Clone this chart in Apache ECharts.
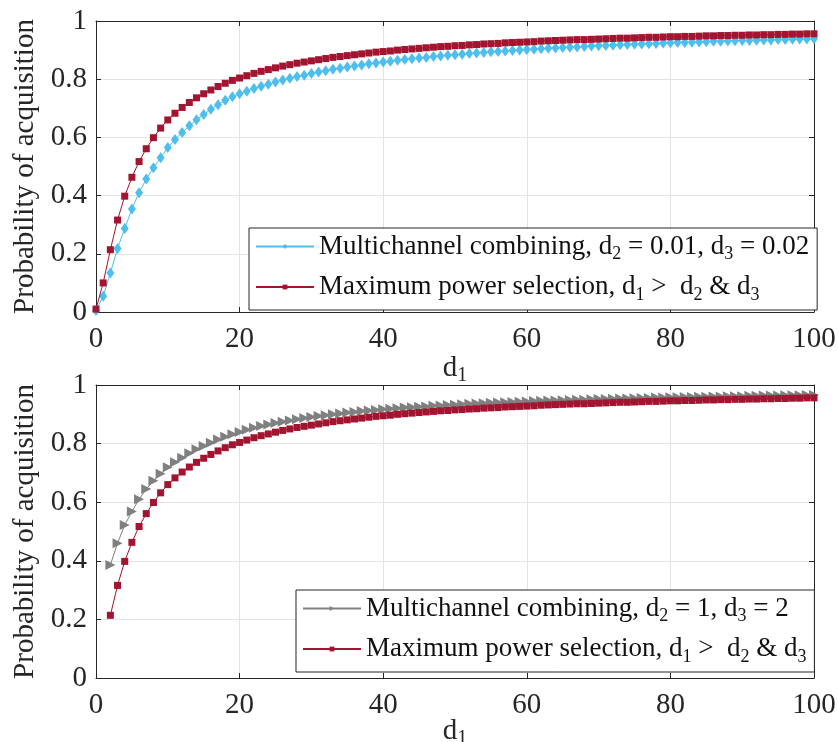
<!DOCTYPE html>
<html>
<head>
<meta charset="utf-8">
<script src="https://cdn.jsdelivr.net/npm/echarts@6/dist/echarts.min.js"></script>
<style>
  html, body { margin: 0; padding: 0; background: #ffffff; }
  #chart { width: 838px; height: 742px; }
</style>
</head>
<body>
<div id="chart"></div>
<script>
// d1 grid: integer steps 0..100 (upper panel), 2..100 (lower panel)
const d1Upper = Array.from({ length: 101 }, (_, i) => i);
const d1Lower = Array.from({ length: 99 }, (_, i) => i + 2);

// Multichannel combining, d2 = 0.01, d3 = 0.02  (d1 = 0..100)
const mcSmall = [
  0.005, 0.054, 0.134, 0.218, 0.287, 0.354, 0.410, 0.457, 0.496, 0.530,
  0.565, 0.593, 0.617, 0.640, 0.661, 0.679, 0.697, 0.712, 0.728, 0.740,
  0.750, 0.759, 0.768, 0.776, 0.783, 0.790, 0.797, 0.803, 0.809, 0.814,
  0.820, 0.825, 0.829, 0.834, 0.838, 0.842, 0.845, 0.849, 0.853, 0.856,
  0.859, 0.862, 0.865, 0.868, 0.870, 0.873, 0.875, 0.878, 0.880, 0.882,
  0.884, 0.886, 0.888, 0.890, 0.892, 0.894, 0.895, 0.897, 0.899, 0.900,
  0.902, 0.903, 0.905, 0.906, 0.907, 0.909, 0.910, 0.911, 0.912, 0.914,
  0.915, 0.916, 0.917, 0.918, 0.919, 0.920, 0.921, 0.922, 0.923, 0.924,
  0.925, 0.926, 0.926, 0.927, 0.928, 0.929, 0.930, 0.930, 0.931, 0.932,
  0.933, 0.933, 0.934, 0.935, 0.935, 0.936, 0.936, 0.937, 0.938, 0.938,
  0.939
];

// Maximum power selection, d1 > d2 & d3  (d1 = 0..100)
const maxPower = [
  0.010, 0.100, 0.214, 0.316, 0.398, 0.463, 0.517, 0.561, 0.599, 0.632,
  0.660, 0.683, 0.703, 0.720, 0.736, 0.750, 0.763, 0.775, 0.786, 0.796,
  0.804, 0.812, 0.820, 0.827, 0.833, 0.839, 0.845, 0.850, 0.855, 0.859,
  0.863, 0.867, 0.871, 0.875, 0.878, 0.881, 0.884, 0.887, 0.890, 0.893,
  0.895, 0.897, 0.900, 0.902, 0.904, 0.906, 0.908, 0.910, 0.912, 0.913,
  0.915, 0.916, 0.918, 0.919, 0.921, 0.922, 0.923, 0.925, 0.926, 0.927,
  0.928, 0.929, 0.931, 0.932, 0.933, 0.934, 0.935, 0.936, 0.936, 0.937,
  0.938, 0.939, 0.940, 0.941, 0.941, 0.942, 0.943, 0.944, 0.944, 0.945,
  0.946, 0.946, 0.947, 0.947, 0.948, 0.949, 0.949, 0.950, 0.950, 0.951,
  0.951, 0.952, 0.952, 0.953, 0.953, 0.954, 0.954, 0.955, 0.955, 0.956,
  0.956
];

// Multichannel combining, d2 = 1, d3 = 2  (d1 = 2..100)
const mcLarge = [
  0.386, 0.460, 0.522, 0.568, 0.610, 0.645, 0.673, 0.697,
  0.719, 0.736, 0.752, 0.767, 0.781, 0.792, 0.803, 0.814, 0.823, 0.832,
  0.840, 0.847, 0.854, 0.860, 0.865, 0.870, 0.875, 0.879, 0.883, 0.887,
  0.891, 0.894, 0.897, 0.900, 0.903, 0.906, 0.908, 0.911, 0.913, 0.915,
  0.917, 0.919, 0.921, 0.923, 0.924, 0.926, 0.927, 0.929, 0.930, 0.932,
  0.933, 0.934, 0.936, 0.937, 0.938, 0.939, 0.940, 0.941, 0.942, 0.943,
  0.944, 0.945, 0.946, 0.947, 0.947, 0.948, 0.949, 0.950, 0.950, 0.951,
  0.952, 0.952, 0.953, 0.954, 0.954, 0.955, 0.956, 0.956, 0.957, 0.957,
  0.958, 0.958, 0.959, 0.959, 0.960, 0.960, 0.961, 0.961, 0.962, 0.962,
  0.962, 0.963, 0.963, 0.964, 0.964, 0.964, 0.965, 0.965, 0.965, 0.966,
  0.966
];

const xTicks = [0, 20, 40, 60, 80, 100];
const yTicks = [0, 0.2, 0.4, 0.6, 0.8, 1];

const nameMcSmall = 'Multichannel combining, d2 = 0.01, d3 = 0.02';
const nameMaxPower = 'Maximum power selection, d1 > d2 & d3';
const nameMcLarge = 'Multichannel combining, d2 = 1, d3 = 2';

const legendRich = {
  [nameMcSmall]: '{n|Multichannel combining, d}{s|2}{n| = 0.01, d}{s|3}{n| = 0.02}',
  [nameMaxPower]: '{n|Maximum power selection, d}{s|1}{n| >  d}{s|2}{n| & d}{s|3}',
  [nameMcLarge]: '{n|Multichannel combining, d}{s|2}{n| = 1, d}{s|3}{n| = 2}'
};

const FONT = "'Liberation Serif', 'Times New Roman', serif";
const INK = '#262626';
const BLUE = '#4DBEEE';
const RED = '#A2142F';
const GRAY = '#808080';

const pairs = (xs, ys) => xs.map((x, i) => [x, ys[i]]);

function mainX(gridIndex, nameGap) {
  return {
    type: 'value', gridIndex, position: 'bottom',
    min: xTicks[0], max: xTicks[xTicks.length - 1], interval: xTicks[1] - xTicks[0],
    name: '{n|d}{s|1}', nameLocation: 'middle', nameGap, nameMoveOverlap: false,
    nameTextStyle: {
      rich: {
        n: { fontFamily: FONT, fontSize: 29, color: INK },
        s: { fontFamily: FONT, fontSize: 20, color: INK, padding: [16, 0, 0, 0] }
      }
    },
    axisLine: { show: true, onZero: false, lineStyle: { color: INK, width: 1 } },
    axisTick: { show: true, inside: true, length: 5, lineStyle: { color: INK } },
    axisLabel: { fontFamily: FONT, fontSize: 29, color: INK, margin: 13 },
    splitLine: { show: true, lineStyle: { color: '#e3e3e3', width: 1 } }
  };
}
function mirrorX(gridIndex) {
  return {
    type: 'value', gridIndex, position: 'top',
    min: xTicks[0], max: xTicks[xTicks.length - 1], interval: xTicks[1] - xTicks[0],
    axisLine: { show: true, onZero: false, lineStyle: { color: INK, width: 1 } },
    axisTick: { show: true, inside: true, length: 5, lineStyle: { color: INK } },
    axisLabel: { show: false },
    splitLine: { show: false }
  };
}
function mainY(gridIndex) {
  return {
    type: 'value', gridIndex, position: 'left',
    min: yTicks[0], max: yTicks[yTicks.length - 1], interval: yTicks[1] - yTicks[0],
    name: 'Probability of acquisition', nameLocation: 'middle', nameGap: 56,
    nameTextStyle: { fontFamily: FONT, fontSize: 29, color: INK },
    axisLine: { show: true, onZero: false, lineStyle: { color: INK, width: 1 } },
    axisTick: { show: true, inside: true, length: 5, lineStyle: { color: INK } },
    axisLabel: { fontFamily: FONT, fontSize: 29, color: INK, margin: 9 },
    splitLine: { show: true, lineStyle: { color: '#e3e3e3', width: 1 } }
  };
}
function mirrorY(gridIndex) {
  return {
    type: 'value', gridIndex, position: 'right',
    min: yTicks[0], max: yTicks[yTicks.length - 1], interval: yTicks[1] - yTicks[0],
    axisLine: { show: true, onZero: false, lineStyle: { color: INK, width: 1 } },
    axisTick: { show: true, inside: true, length: 5, lineStyle: { color: INK } },
    axisLabel: { show: false },
    splitLine: { show: false }
  };
}

function legendAt(left, top, names) {
  return {
    data: names,
    orient: 'vertical',
    left, top,
    itemWidth: 58, itemHeight: 6, itemGap: 10,
    backgroundColor: '#ffffff',
    borderColor: INK, borderWidth: 1, borderRadius: 0,
    padding: [5, 8, 6, 6],
    selectedMode: false,
    formatter: (name) => legendRich[name],
    textStyle: {
      rich: {
        n: { fontFamily: FONT, fontSize: 27, color: '#111', lineHeight: 30 },
        s: { fontFamily: FONT, fontSize: 18, color: '#111', padding: [16, 0, 0, 0] }
      }
    }
  };
}

const chart = echarts.init(document.getElementById('chart'), null, { renderer: 'canvas' });
chart.setOption({
  animation: false,
  backgroundColor: '#ffffff',
  grid: [
    { left: 96, right: 24, top: 21, height: 291, outerBoundsMode: 'none', containLabel: false },
    { left: 96, right: 24, top: 385, height: 293, outerBoundsMode: 'none', containLabel: false }
  ],
  xAxis: [mainX(0, 38), mirrorX(0), mainX(1, 35), mirrorX(1)],
  yAxis: [mainY(0), mirrorY(0), mainY(1), mirrorY(1)],
  legend: [
    legendAt(249, 228, [nameMcSmall, nameMaxPower]),
    legendAt(296, 590, [nameMcLarge, nameMaxPower])
  ],
  series: [
    {
      name: nameMcSmall, type: 'line', xAxisIndex: 0, yAxisIndex: 0,
      data: pairs(d1Upper, mcSmall),
      symbol: 'diamond', symbolSize: [8, 11], showAllSymbol: true,
      lineStyle: { color: BLUE, width: 1 }, itemStyle: { color: BLUE }, z: 2
    },
    {
      name: nameMaxPower, type: 'line', xAxisIndex: 0, yAxisIndex: 0,
      data: pairs(d1Upper, maxPower),
      symbol: 'rect', symbolSize: 7, showAllSymbol: true,
      lineStyle: { color: RED, width: 1 }, itemStyle: { color: RED }, z: 3
    },
    {
      name: nameMcLarge, type: 'line', xAxisIndex: 2, yAxisIndex: 2,
      data: pairs(d1Lower, mcLarge),
      symbol: 'triangle', symbolRotate: -90, symbolSize: 10, showAllSymbol: true,
      lineStyle: { color: GRAY, width: 1 }, itemStyle: { color: GRAY }, z: 2
    },
    {
      name: nameMaxPower, type: 'line', xAxisIndex: 2, yAxisIndex: 2,
      data: pairs(d1Lower, maxPower.slice(2)),
      symbol: 'rect', symbolSize: 7, showAllSymbol: true,
      lineStyle: { color: RED, width: 1 }, itemStyle: { color: RED }, z: 3
    }
  ]
});
</script>
</body>
</html>
